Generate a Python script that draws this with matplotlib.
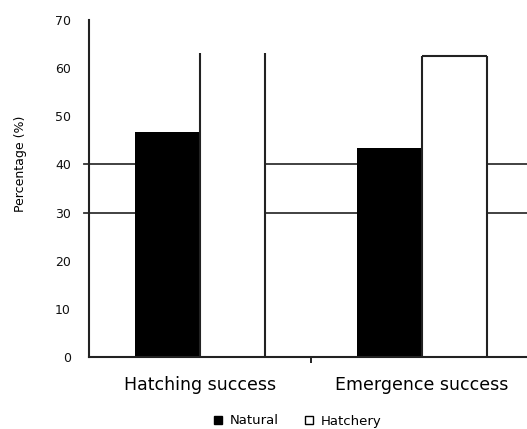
import matplotlib
matplotlib.use("Agg")
import matplotlib.pyplot as plt
import numpy as np
from matplotlib.patches import Patch

categories = ["Hatching success", "Emergence success"]
natural = [46.8, 43.5]
hatchery = [63.2, 62.6]
yticks = [0, 10, 20, 30, 40, 50, 60, 70]
gridvals = [30, 40]

W, H = 527, 429
fig = plt.figure(figsize=(W / 100, H / 100), dpi=100)
ax = fig.add_axes([89 / W, (429 - 357) / H, (533 - 89) / W, 337 / H])

x = np.arange(len(categories))
bw = 0.293

for g in gridvals:
    ax.axhline(g, xmin=-0.012, xmax=1, color="#333333", lw=1.3, zorder=0, clip_on=False)

ax.bar(x - bw / 2, natural, bw, color="black", edgecolor="black", lw=0, zorder=2)
hb = ax.bar(x + bw / 2, hatchery, bw, color="white", lw=0, zorder=2)
# outlines for the hatchery bars (top edge missing on the first one, as in the reference)
for i, p in enumerate(hb.patches):
    x0, w, h = p.get_x(), p.get_width(), p.get_height()
    ax.vlines([x0, x0 + w], 0, h, color="#222222", lw=1.5, zorder=3)
    if i == 1:
        ax.hlines(h, x0, x0 + w, color="#222222", lw=1.5, zorder=3)

ax.set_xlim(-0.5, 1.5)
ax.set_ylim(0, 70)
ax.set_yticks(yticks)
ax.tick_params(axis="y", length=0, pad=13, labelsize=9, colors="#111111")
ax.set_xticks([0.5])
ax.set_xticklabels([""])
ax.set_xticks(x, minor=True)
ax.set_xticklabels(categories, minor=True, fontsize=12.5)
ax.tick_params(axis="x", which="major", length=4, width=1.2, direction="out")
ax.tick_params(axis="x", which="minor", length=0, pad=14)

for s in ["top", "right"]:
    ax.spines[s].set_visible(False)
for s in ["left", "bottom"]:
    ax.spines[s].set_linewidth(1.5)
    ax.spines[s].set_color("#222222")

ax.set_ylabel("Percentage (%)", fontsize=9)
ax.yaxis.set_label_coords(27 / W, (429 - 164) / H, transform=fig.transFigure)

handles = [Patch(facecolor="black", edgecolor="black", label="Natural"),
           Patch(facecolor="white", edgecolor="black", label="Hatchery")]
fig.legend(handles=handles, loc="center", bbox_to_anchor=(0.565, (429 - 421) / H), ncol=2,
           frameon=False, fontsize=9.5, handlelength=0.6, handleheight=0.6,
           handletextpad=0.6, columnspacing=2.0)

fig.savefig("out.png", dpi=100)
